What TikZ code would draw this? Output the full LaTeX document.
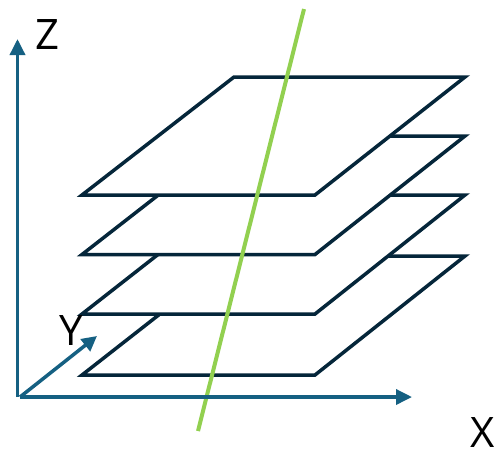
\documentclass[tikz,border=0pt]{standalone}
\usepackage{fontspec}
\usepackage{tikz}
\usetikzlibrary{arrows.meta,positioning}
\setmainfont{Open Sans}
\definecolor{AxisBlue}{HTML}{156082}
\definecolor{PlaneDark}{HTML}{05263A}
\definecolor{LineGreen}{HTML}{92D050}
\tikzset{
  axisarr/.style={-{Triangle[length=16pt,width=15pt]},line width=3.5pt,AxisBlue},
  planebox/.style={draw=PlaneDark,fill=white,line width=3.5pt,miter limit=10},
  lbl/.style={font=\fontsize{42}{42}\selectfont,text=black,inner sep=0pt,anchor=base}
}
\begin{document}
\begin{tikzpicture}[x=1pt,y=-1pt]
  \useasboundingbox (0,0) rectangle (497,451);
  % stacked planes, lowest first
  \foreach \yb/\yt in {375/256,314/195,254.5/136,195/77}{
    \draw[planebox] (82,\yb) -- (315,\yb) -- (465,\yt) -- (234,\yt) -- cycle;
  }
  \draw[line width=4pt,LineGreen] (198,431) -- (304,9);

  \coordinate (orig) at (17.5,397);
  \coordinate (xorig) at (20,397);
  \coordinate (zend) at (17.5,39);
  \coordinate (xend) at (412,397);
  \coordinate (yend) at (97,336);
  \draw[axisarr] (orig) -- (zend);
  \draw[axisarr] (xorig) -- (xend);
  \draw[axisarr,-{Triangle[length=15pt,width=15pt]}] (xorig) -- (yend);

  \node[lbl] (zlab) at (47,49) {Z};
  \node[lbl] (ylab) at (71,345) {Y};
  \node[lbl] (xlab) at (483,447) {X};
\end{tikzpicture}
\end{document}
